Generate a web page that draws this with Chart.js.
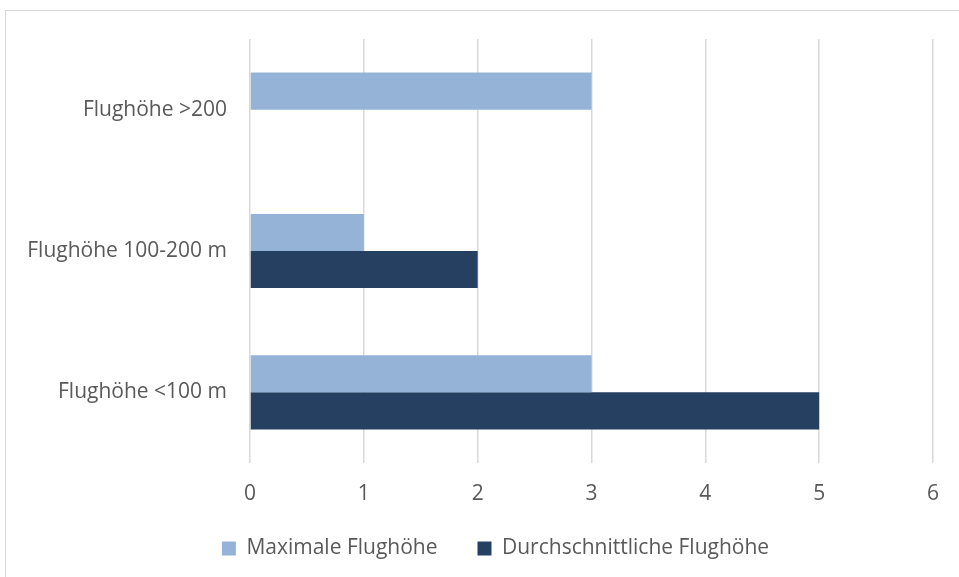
<!DOCTYPE html>
<html>
<head>
<meta charset="utf-8">
<script src="https://cdn.jsdelivr.net/npm/chart.js@4/dist/chart.umd.min.js"></script>
<style>
  body { margin: 0; background: #fff; }
  #wrap { position: relative; width: 959px; height: 577px; overflow: hidden; }
  #frame { position: absolute; left: 5px; top: 10px; width: 1000px; height: 600px; border: 1px solid #d9d9d9; box-sizing: border-box; }
  canvas { position: absolute; left: 0; top: 0; }
</style>
</head>
<body>
<div id="wrap">
  <div id="frame"></div>
  <canvas id="chart" width="959" height="577"></canvas>
</div>
<script>
const categories = ['Flughöhe >200', 'Flughöhe 100-200 m', 'Flughöhe <100 m'];
const maxValues = [3, 1, 3];
const avgValues = [0, 2, 5];
const seriesNames = ['Maximale Flughöhe', 'Durchschnittliche Flughöhe'];
const xTicks = [0, 1, 2, 3, 4, 5, 6];

const font = { family: 'Open Sans', size: 21 };

// give the x tick labels room below the axis box and nudge the legend right
const layoutTweak = {
    id: 'layoutTweak',
    afterLayout(chart) {
        chart.scales.x.bottom += 20;
        chart.legend.left += 29;
        chart.legend.right += 29;
    }
};

const ctx = document.getElementById('chart').getContext('2d');
new Chart(ctx, {
    type: 'bar',
    data: {
        labels: categories,
        datasets: [
            { label: seriesNames[0], data: maxValues, backgroundColor: '#95b3d7' },
            { label: seriesNames[1], data: avgValues, backgroundColor: '#254061' }
        ]
    },
    options: {
        indexAxis: 'y',
        responsive: false,
        animation: false,
        devicePixelRatio: 1,
        datasets: { bar: { categoryPercentage: 0.525, barPercentage: 1.0 } },
        layout: { padding: { top: 39, right: 26, left: 0, bottom: 8 } },
        plugins: {
            legend: {
                position: 'bottom',
                labels: { font: font, color: '#595959', boxWidth: 14, boxHeight: 14, padding: 40 }
            },
            tooltip: { enabled: false }
        },
        scales: {
            x: {
                min: 0,
                max: 6,
                afterBuildTicks: s => { s.ticks = xTicks.map(v => ({ value: v })); },
                grid: { color: '#d9d9d9', lineWidth: 1.5, drawTicks: false },
                border: { display: false },
                ticks: { font: font, color: '#595959', padding: 18 },
                afterFit: s => { s.height = 35; }
            },
            y: {
                grid: { display: false },
                border: { display: false },
                ticks: { font: font, color: '#595959', padding: 15 },
                afterFit: s => { s.width = 250; }
            }
        }
    },
    plugins: [layoutTweak]
});
</script>
</body>
</html>
